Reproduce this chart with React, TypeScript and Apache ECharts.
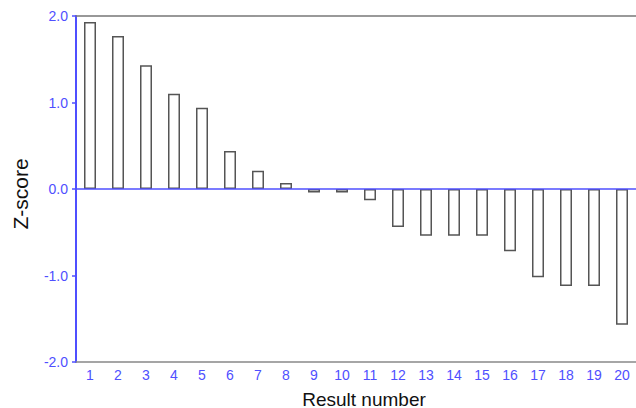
import React, { useEffect, useRef } from "react";
import * as echarts from "echarts";

const categories = ["1","2","3","4","5","6","7","8","9","10","11","12","13","14","15","16","17","18","19","20"];
const zScores = [1.93, 1.77, 1.43, 1.10, 0.94, 0.44, 0.21, 0.07, -0.04, -0.04, -0.13, -0.44, -0.54, -0.54, -0.54, -0.72, -1.02, -1.12, -1.12, -1.57];
const yMin = -2;
const yMax = 2;
const yInterval = 1;
const xTitle = "Result number";
const yTitle = "Z-score";

const BLUE = "#4f4fff";
const FONT = "Liberation Sans, Arial, sans-serif";

export default function App() {
  const ref = useRef<HTMLDivElement>(null);
  useEffect(() => {
    if (!ref.current) return;
    const chart = echarts.init(ref.current, null, { renderer: "svg" });
    chart.setOption({
      animation: false,
      backgroundColor: "#ffffff",
      grid: { left: 76, top: 16, right: -2, bottom: 46, containLabel: false },
      graphic: [
        {
          type: "text",
          x: 20,
          y: 194,
          rotation: Math.PI / 2,
          style: {
            text: yTitle,
            fill: "#111",
            fontSize: 21,
            fontFamily: FONT,
            align: "center",
            verticalAlign: "middle",
          },
        },
        {
          type: "text",
          x: 364,
          y: 399,
          style: {
            text: xTitle,
            fill: "#111",
            fontSize: 19,
            fontFamily: FONT,
            align: "center",
            verticalAlign: "middle",
          },
        },
      ],
      xAxis: [
        {
          type: "category",
          data: categories,
          position: "bottom",
          axisLine: { onZero: false, lineStyle: { color: "#888888", width: 1.5 } },
          axisTick: { show: false },
          axisLabel: { color: BLUE, fontSize: 14, fontFamily: FONT, margin: 6 },
          splitLine: { show: false },
        },
        {
          type: "category",
          data: categories,
          position: "top",
          axisLine: { onZero: false, lineStyle: { color: "#777777", width: 1.5 } },
          axisTick: { show: false },
          axisLabel: { show: false },
          splitLine: { show: false },
        },
      ],
      yAxis: {
        type: "value",
        min: yMin,
        max: yMax,
        interval: yInterval,
        axisLine: { show: true, lineStyle: { color: BLUE, width: 2 } },
        axisTick: { show: true, length: 4, lineStyle: { color: BLUE, width: 1.5 } },
        axisLabel: {
          color: BLUE,
          fontSize: 14,
          fontFamily: FONT,
          margin: 8,
          formatter: (v: number) => v.toFixed(1),
        },
        splitLine: { show: false },
      },
      series: [
        {
          type: "bar",
          xAxisIndex: 0,
          data: zScores,
          barWidth: 12,
          itemStyle: { color: "#ffffff", borderColor: "#555555", borderWidth: 1.5 },
          markLine: {
            silent: true,
            symbol: "none",
            label: { show: false },
            lineStyle: { color: BLUE, width: 1.5, type: "solid" },
            data: [{ yAxis: 0 }],
          },
        },
      ],
    });
    return () => chart.dispose();
  }, []);
  return <div ref={ref} style={{ width: 636, height: 408, position: "absolute", left: 0, top: 0 }} />;
}
